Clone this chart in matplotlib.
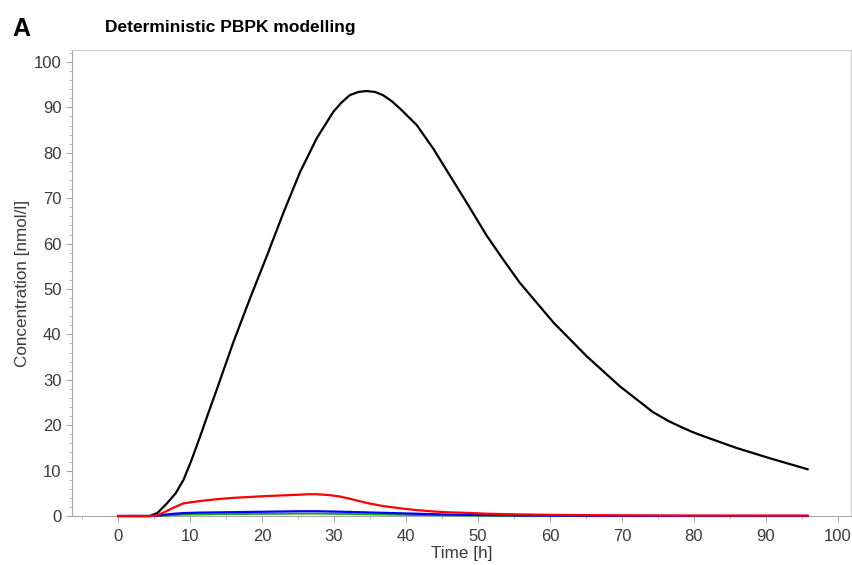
import matplotlib.pyplot as plt
from matplotlib.ticker import MultipleLocator

plt.rcParams['font.family'] = ['Liberation Sans', 'DejaVu Sans']

# black curve, time [h] and concentration [nmol/l]
t_black = [0, 2, 4.4, 5.5, 6.8, 8.0, 9.1, 10.2, 11.4, 12.5, 13.7, 16.0, 18.3, 20.7, 23.0, 25.3, 27.6, 29.9,
           31.0, 32.2, 33.4, 34.5, 35.7, 36.8, 38.0, 39.2, 41.5, 43.8, 46.1, 48.4, 51.2, 53.5, 55.8,
           60.5, 65.1, 69.7, 74.3, 76.5, 78.1, 79.8, 81.3, 85.9, 90.6, 95.8]
black = [0, 0, 0, 0.7, 2.8, 5.0, 8.0, 12.3, 17.5, 22.5, 27.8, 38.2, 47.8, 57.4, 66.9, 75.8, 83.2, 89.0,
         91.0, 92.7, 93.4, 93.6, 93.4, 92.7, 91.4, 89.7, 86.1, 80.9, 75.0, 69.1, 61.8, 56.5, 51.4,
         42.6, 35.2, 28.6, 22.9, 20.9, 19.7, 18.5, 17.6, 15.0, 12.7, 10.3]

# smaller series (same time grid)
t_low = [0, 2, 4.4, 5.4, 6.5, 7.8, 9.1, 11.4, 13.7, 16.0, 18.3, 20.7, 23.0, 25.3, 26.2, 27.6, 29.4, 30.8,
         32.2, 34.5, 36.8, 39.2, 41.5, 43.8, 46.1, 48.4, 51.2, 55.8, 60.5, 65.1, 69.7, 78.1, 85.9, 95.8]
red = [0, 0, 0, 0.1, 0.9, 1.9, 2.8, 3.3, 3.7, 4.0, 4.2, 4.4, 4.55, 4.7, 4.8, 4.8, 4.6, 4.3,
       3.8, 2.9, 2.2, 1.7, 1.3, 1.0, 0.8, 0.7, 0.5, 0.35, 0.25, 0.2, 0.15, 0.1, 0.1, 0.1]
blue = [0, 0, 0, 0.05, 0.3, 0.5, 0.65, 0.75, 0.8, 0.85, 0.9, 0.95, 1.0, 1.05, 1.05, 1.05, 1.0, 0.95,
        0.9, 0.8, 0.7, 0.6, 0.5, 0.4, 0.3, 0.25, 0.2, 0.12, 0.08, 0.05, 0.03, 0.02, 0.01, 0.01]
green = [0, 0, 0, 0.02, 0.1, 0.2, 0.3, 0.35, 0.4, 0.42, 0.45, 0.48, 0.5, 0.52, 0.52, 0.52, 0.5, 0.47,
         0.44, 0.38, 0.32, 0.27, 0.22, 0.18, 0.14, 0.11, 0.08, 0.05, 0.03, 0.02, 0.01, 0.01, 0.01, 0.01]

fig = plt.figure(figsize=(8.53, 5.65), dpi=100)
ax = fig.add_axes([0.0844, 0.0867, 0.913, 0.8245])

ax.plot(t_black, black, color='black', lw=1.6, zorder=3, clip_on=False)
ax.plot(t_low, green, color='#22a022', lw=1.4, zorder=3, clip_on=False)
ax.plot(t_low, blue, color='#0000ff', lw=1.6, zorder=3, clip_on=False)
ax.plot(t_low, red, color='#ff0000', lw=1.6, zorder=3, clip_on=False)

ax.set_xlim(-6.4, 101.8)
ax.set_ylim(0, 102.6)
ax.xaxis.set_major_locator(MultipleLocator(10))
ax.xaxis.set_minor_locator(MultipleLocator(5))
ax.yaxis.set_major_locator(MultipleLocator(10))
ax.yaxis.set_minor_locator(MultipleLocator(2))
ax.tick_params(which='both', direction='out', color='#a8a8a8', labelsize=12, labelcolor='#3a3a3a')
ax.tick_params(which='major', length=4)
ax.tick_params(which='minor', length=2.5)
ax.tick_params(axis='x', pad=5)
for s in ax.spines.values():
    s.set_color('#cccccc')
ax.spines['left'].set_color('#a8a8a8')
ax.spines['bottom'].set_color('#a8a8a8')

ax.set_xlabel('Time [h]', fontsize=12.3, color='#3a3a3a', labelpad=2)
ax.set_ylabel('Concentration [nmol/l]', fontsize=12.3, color='#3a3a3a', labelpad=3)

fig.text(0.014, 0.948, 'A', fontsize=18, fontweight='bold', va='center')
fig.text(0.123, 0.952, 'Deterministic PBPK modelling', fontsize=12.5, fontweight='bold', va='center')

fig.savefig('out.png', dpi=100)
